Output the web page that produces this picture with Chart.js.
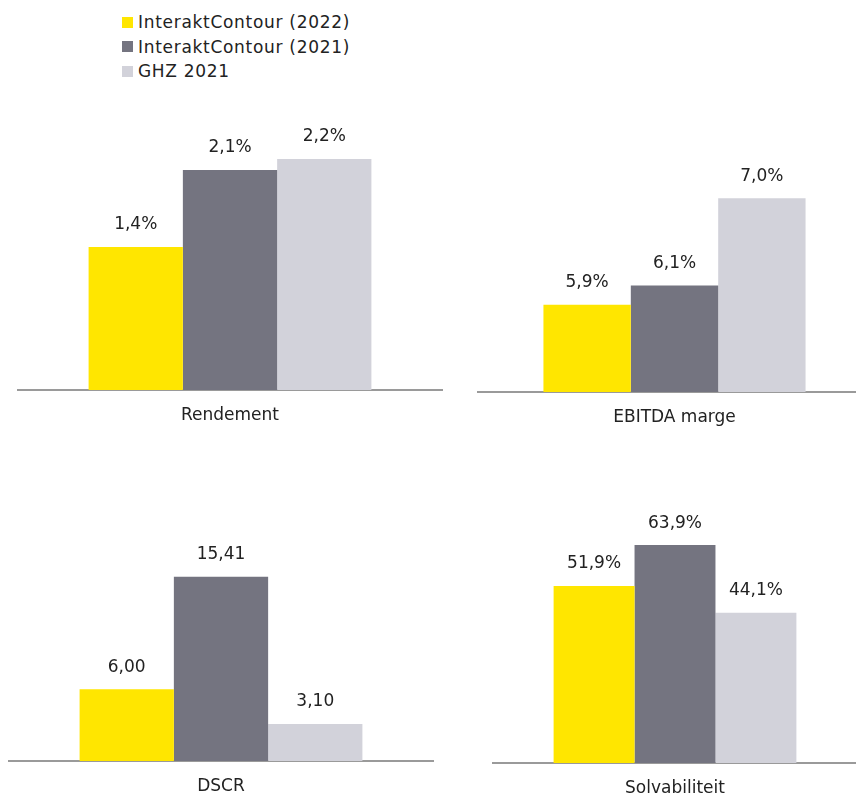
<!DOCTYPE html>
<html>
<head>
<meta charset="utf-8">
<script src="https://cdn.jsdelivr.net/npm/chart.js@4.4.1/dist/chart.umd.min.js"></script>
<style>
    html, body { margin: 0; padding: 0; background: #fff; overflow: hidden; width: 856px; height: 798px; }
    body { position: relative; font-family: "DejaVu Sans", Verdana, sans-serif; color: #222; }
    canvas { position: absolute; }
    #legend { position: absolute; left: 122px; top: 10px; font-size: 17px; letter-spacing: 0.7px; }
    #legend .item { display: flex; align-items: center; height: 24.5px; white-space: nowrap; }
    #legend .box { width: 11px; height: 11px; margin-right: 5px; flex: none; }
</style>
</head>
<body>
<div id="legend"></div>
<canvas id="c0"></canvas>
<canvas id="c1"></canvas>
<canvas id="c2"></canvas>
<canvas id="c3"></canvas>
<script>
// datos
const categories = ['Rendement', 'EBITDA marge', 'DSCR', 'Solvabiliteit'];
const seriesNames = ['InteraktContour (2022)', 'InteraktContour (2021)', 'GHZ 2021'];
const interakt2022 = [1.4, 5.9, 6.00, 51.9];
const interakt2021 = [2.1, 6.1, 15.41, 63.9];
const ghz2021 = [2.2, 7.0, 3.10, 44.1];
const decimals = [1, 1, 2, 1];
const suffixes = ['%', '%', '', '%'];

const seriesValues = [interakt2022, interakt2021, ghz2021];
const colors = ['#FFE600', '#747480', '#D2D2DA'];

// posicion de cada panel y rango del eje
const panels = [
    { left: 0,   top: 100, width: 460, height: 350, padL: 18, padR: 18, min: 0.1, max: 2.645 },
    { left: 460, top: 100, width: 430, height: 352, padL: 18, padR: 19, min: 5,   max: 7.91 },
    { left: 0,   top: 470, width: 450, height: 351, padL: 9,  padR: 17, min: 0,   max: 23.5 },
    { left: 450, top: 470, width: 430, height: 353, padL: 43, padR: 23, min: 0,   max: 83 }
];

Chart.defaults.font.family = '"DejaVu Sans", Verdana, sans-serif';
Chart.defaults.color = '#222';

// leyenda en html
const legend = document.getElementById('legend');
seriesNames.forEach((name, i) => {
    const row = document.createElement('div');
    row.className = 'item';
    row.innerHTML = '<span class="box" style="background:' + colors[i] + '"></span>' + name;
    legend.appendChild(row);
});

function fmt(v, d, s) {
    return v.toFixed(d).replace('.', ',') + s;
}

// etiquetas encima de las barras
const valueLabels = {
    id: 'valueLabels',
    afterDatasetsDraw(chart, args, opts) {
        const ctx = chart.ctx;
        ctx.save();
        ctx.font = '17px "DejaVu Sans", Verdana, sans-serif';
        ctx.fillStyle = '#222';
        ctx.textAlign = 'center';
        ctx.textBaseline = 'middle';
        chart.data.datasets.forEach((ds, di) => {
            chart.getDatasetMeta(di).data.forEach((bar, j) => {
                ctx.fillText(fmt(ds.data[j], opts.decimals, opts.suffix), bar.x, bar.y - 22);
            });
        });
        ctx.restore();
    }
};

panels.forEach((p, i) => {
    const canvas = document.getElementById('c' + i);
    canvas.width = p.width;
    canvas.height = p.height;
    canvas.style.left = p.left + 'px';
    canvas.style.top = p.top + 'px';

    new Chart(canvas, {
        type: 'bar',
        data: {
            labels: [categories[i]],
            datasets: seriesNames.map((name, s) => ({
                label: name,
                data: [seriesValues[s][i]],
                backgroundColor: colors[s],
                borderWidth: 0,
                categoryPercentage: 0.667,
                barPercentage: 1
            }))
        },
        options: {
            responsive: false,
            animation: false,
            devicePixelRatio: 1,
            layout: { padding: { top: 10, bottom: 9.6, left: p.padL, right: p.padR } },
            plugins: {
                legend: { display: false },
                tooltip: { enabled: false },
                valueLabels: { decimals: decimals[i], suffix: suffixes[i] }
            },
            scales: {
                x: {
                    grid: { display: false, drawTicks: false },
                    border: { display: true, color: '#9a9a9a', width: 2 },
                    ticks: { font: { size: 17 }, color: '#222', padding: 15 }
                },
                y: {
                    display: false,
                    min: p.min,
                    max: p.max
                }
            }
        },
        plugins: [valueLabels]
    });
});
</script>
</body>
</html>
